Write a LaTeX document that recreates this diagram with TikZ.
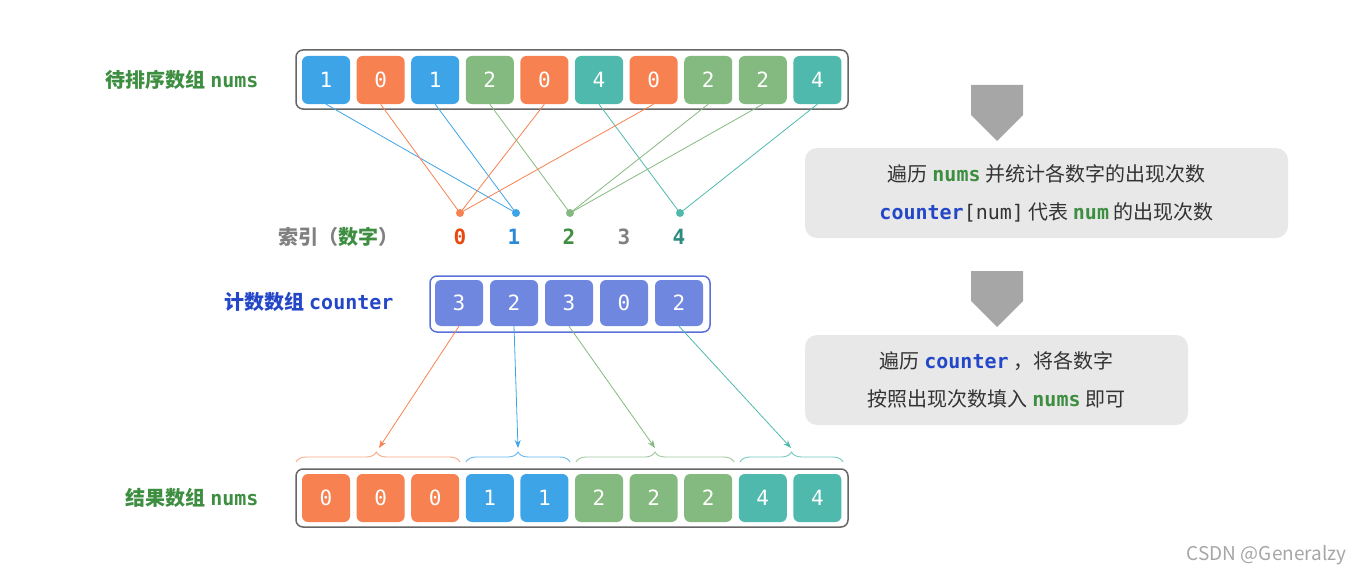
\documentclass[tikz,border=0pt]{standalone}
\usepackage{fontspec}
\setmainfont{Noto Sans CJK SC}
\newfontfamily\cjk{Noto Sans CJK SC}
\newfontfamily\mono{DejaVu Sans Mono}
\usetikzlibrary{arrows.meta,shapes.arrows,decorations.pathreplacing}
\definecolor{cB}{HTML}{3EA4E8}
\definecolor{cO}{HTML}{F78150}
\definecolor{cG}{HTML}{84B97F}
\definecolor{cT}{HTML}{4FB9AD}
\definecolor{cC}{HTML}{6F87DF}
\definecolor{cCb}{HTML}{5A70D8}
\definecolor{tG}{HTML}{3E8E41}
\definecolor{tB}{HTML}{2447C8}
\definecolor{tO}{HTML}{E8490F}
\definecolor{t1}{HTML}{2B8AD6}
\definecolor{t4}{HTML}{2D8B80}
\definecolor{gbox}{HTML}{E8E8E8}
\definecolor{garr}{HTML}{A6A6A6}
\begin{document}
\begin{tikzpicture}[x=1pt,y=-1pt,
 cell/.style={rounded corners=6pt,minimum width=48pt,minimum height=48pt,text=white,font=\mono\fontsize{21}{21}\selectfont,inner sep=0pt},
 outer/.style={draw=gray!80!black,line width=1.5pt,rounded corners=7pt},
 lbl/.style={font=\cjk\bfseries\fontsize{20}{22}\selectfont,anchor=east},
 info/.style={fill=gbox,rounded corners=12pt,align=center,font=\cjk\fontsize{20}{38}\selectfont,text=black!80},
 conn/.style={line width=0.8pt},
 dot/.style={circle,inner sep=0pt,minimum size=8pt},
 garrow/.style={single arrow,fill=garr,draw=none,shape border rotate=270,minimum width=52pt,single arrow head extend=0pt,single arrow tip angle=90,minimum height=56pt,inner sep=0pt},
 ]
\useasboundingbox (0,0) rectangle (1355,578);
\newcommand{\cd}[2]{{\mono\bfseries\color{#1}#2}}
% top array
\draw[outer] (296,50) rectangle (848,109);
\foreach \v/\c [count=\i from 0] in {1/cB,0/cO,1/cB,2/cG,0/cO,4/cT,0/cO,2/cG,2/cG,4/cT}{
  \node[cell,fill=\c] (t\i) at (326+54.6*\i,80) {\v};}
\node[lbl,text=tG] (l1) at (262,80) {待排序数组 \cd{tG}{nums}};
% dots
\node[dot,fill=cO] (d0) at (460,213) {};
\node[dot,fill=cB] (d1) at (516,213) {};
\node[dot,fill=cG] (d2) at (570,213) {};
\node[dot,fill=cT] (d4) at (680,213) {};
\foreach \i/\v/\c in {0/1/cB,1/0/cO,2/1/cB,3/2/cG,4/0/cO,5/4/cT,6/0/cO,7/2/cG,8/2/cG,9/4/cT}{
  \draw[conn,\c] (t\i.south) -- (d\v.center);}
% index labels
\node[font=\cjk\bfseries\fontsize{20}{22}\selectfont,text=gray,anchor=east] (il) at (402,237) {索引（\textcolor{tG}{数字}）};
\foreach \v/\c/\x in {0/tO/460,1/t1/514,2/tG/569,3/gray/624,4/t4/679}{
  \node[font=\mono\bfseries\fontsize{21}{21}\selectfont,text=\c] (n\v) at (\x,237) {\v};}
% counter
\draw[outer,draw=cCb] (430,276) rectangle (710,332);
\foreach \v [count=\i from 0] in {3,2,3,0,2}{
  \node[cell,fill=cC,minimum height=46pt] (c\i) at (459+55*\i,303) {\v};}
\node[lbl,text=tB] (l2) at (397,302) {计数数组 \cd{tB}{counter}};
% braces
\tikzset{br/.style={decorate,decoration={brace,amplitude=10pt,aspect=#1},line width=0.9pt}}
\draw[br=0.49,cO!70] (296,462) -- (460,462) coordinate[pos=0.49] (b0);
\draw[br=0.5,cB!80] (466,462) -- (570,462);
\draw[br=0.5,cG!80] (576,462) -- (734,462);
\draw[br=0.5,cT!80] (740,462) -- (843,462);
\coordinate (k0) at (379,448);
\coordinate (k1) at (518,448);
\coordinate (k2) at (655,448);
\coordinate (k3) at (791,448);
\draw[conn,cO,-{Stealth[length=8pt,width=6pt]}] (c0.south) -- (k0);
\draw[conn,cB,-{Stealth[length=8pt,width=6pt]}] (c1.south) -- (k1);
\draw[conn,cG,-{Stealth[length=8pt,width=6pt]}] (c2.south) -- (k2);
\draw[conn,cT,-{Stealth[length=8pt,width=6pt]}] (c4.south) -- (k3);
% bottom array
\draw[outer] (296,469) rectangle (848,527);
\foreach \v/\c [count=\i from 0] in {0/cO,0/cO,0/cO,1/cB,1/cB,2/cG,2/cG,2/cG,4/cT,4/cT}{
  \node[cell,fill=\c] (r\i) at (326+54.6*\i,498) {\v};}
\node[lbl,text=tG] (l3) at (262,498) {结果数组 \cd{tG}{nums}};
% right side
\node[garrow] (a1) at (997,100) {};
\node[info,minimum width=483pt,minimum height=90pt] (i1) at (1046.5,193) {遍历 \cd{tG}{nums} 并统计各数字的出现次数\\\cd{tB}{counter}{\mono[num]} 代表 \cd{tG}{num} 的出现次数};
\node[garrow] (a2) at (997,286) {};
\node[info,minimum width=383pt,minimum height=90pt] (i2) at (996.5,380) {遍历 \cd{tB}{counter} ，将各数字\\按照出现次数填入 \cd{tG}{nums} 即可};
\node[font=\fontsize{19}{20}\selectfont,text=gray!70,anchor=east] (wm) at (1350,555) {CSDN @Generalzy};
\end{tikzpicture}
\end{document}
